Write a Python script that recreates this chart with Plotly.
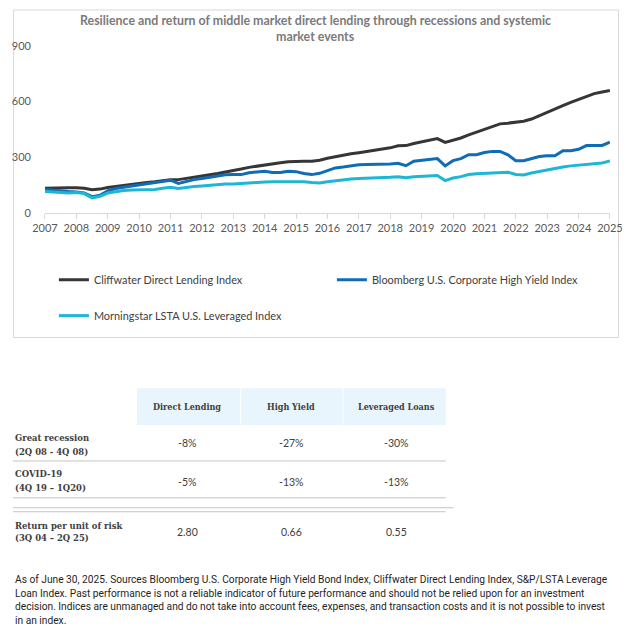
import plotly.graph_objects as go

W, H = 632, 637

# ---------------- data ----------------
title_lines = ["Resilience and return of middle market direct lending through recessions and systemic",
               "market events"]

quarters = [2007.00, 2007.25, 2007.50, 2007.75, 2008.00, 2008.25, 2008.50, 2008.75,
            2009.00, 2009.25, 2009.50, 2009.75, 2010.00, 2010.25, 2010.50, 2010.75,
            2011.00, 2011.25, 2011.50, 2011.75, 2012.00, 2012.25, 2012.50, 2012.75,
            2013.00, 2013.25, 2013.50, 2013.75, 2014.00, 2014.25, 2014.50, 2014.75,
            2015.00, 2015.25, 2015.50, 2015.75, 2016.00, 2016.25, 2016.50, 2016.75,
            2017.00, 2017.25, 2017.50, 2017.75, 2018.00, 2018.25, 2018.50, 2018.75,
            2019.00, 2019.25, 2019.50, 2019.75, 2020.00, 2020.25, 2020.50, 2020.75,
            2021.00, 2021.25, 2021.50, 2021.75, 2022.00, 2022.25, 2022.50, 2022.75,
            2023.00, 2023.25, 2023.50, 2023.75, 2024.00, 2024.25, 2024.50, 2024.75,
            2025.00]

cliffwater = [133, 135, 136, 136, 136, 133, 125, 129,
              138, 144, 150, 155, 159, 164, 168, 174,
              179, 180, 186, 190, 196, 206, 213, 220,
              228, 237, 246, 253, 261, 266, 271, 276,
              279, 279, 279, 284, 295, 304, 311, 319,
              325, 331, 337, 344, 351, 362, 363, 374,
              383, 390, 401, 380, 390, 404, 421, 436,
              453, 469, 480, 484, 489, 494, 506, 523,
              542, 560, 578, 596, 613, 629, 643, 652,
              660]

bloomberg_hy = [127, 122, 118, 116, 114, 108, 88, 96,
                120, 132, 139, 146, 153, 159, 164, 171,
                177, 160, 171, 180, 186, 194, 201, 206,
                207, 207, 217, 222, 225, 218, 218, 225,
                223, 213, 207, 214, 229, 243, 248, 255,
                260, 262, 262, 263, 264, 268, 255, 279,
                283, 288, 293, 254, 282, 293, 314, 314,
                326, 332, 332, 313, 282, 282, 293, 304,
                309, 309, 336, 336, 343, 363, 363, 364,
                382]

morningstar_lsta = [116, 112, 110, 108, 111, 105, 82, 90,
                    108, 116, 121, 124, 125, 126, 127, 133,
                    139, 132, 138, 143, 146, 150, 154, 156,
                    157, 160, 164, 166, 167, 168, 168, 170,
                    171, 168, 164, 162, 168, 174, 179, 183,
                    186, 187, 189, 191, 193, 196, 190, 195,
                    197, 199, 202, 175, 189, 196, 207, 211,
                    214, 218, 220, 220, 208, 205, 216, 225,
                    232, 241, 248, 254, 259, 264, 268, 270,
                    280]

series_names = ["Cliffwater Direct Lending Index",
                "Bloomberg U.S. Corporate High Yield Index",
                "Morningstar LSTA U.S. Leveraged Index"]

year_ticks = list(range(2007, 2026))
y_ticks = [0, 300, 600, 900]

table_columns = ["Direct Lending", "High Yield", "Leveraged Loans"]
row_labels = ["Great recession", "COVID-19", "Return per unit of risk"]
row_periods = ["(2Q 08 - 4Q 08)", "(4Q 19 – 1Q20)", "(3Q 04 – 2Q 25)"]
table_values = [["-8%", "-27%", "-30%"],
                ["-5%", "-13%", "-13%"],
                ["2.80", "0.66", "0.55"]]

footnote_lines = [
    "As of June 30, 2025. Sources Bloomberg U.S. Corporate High Yield Bond Index, Cliffwater Direct Lending Index, S&P/LSTA Leverage",
    "Loan Index. Past performance is not a reliable indicator of future performance and should not be relied upon for an investment",
    "decision. Indices are unmanaged and do not take into account fees, expenses, and transaction costs and it is not possible to invest",
    "in an index.",
]

# ---------------- layout helpers: target picture pixel -> paper ----------------
OX, SX, OY, SY = 12.0, 0.975, 5.0, 0.984


def cx(t):
    return min(max((t - OX) / SX, 0.0), W)


def cy(t):
    return min(max((t - OY) / SY, 0.0), H)


def px(t):
    return cx(t) / W


def py(t):
    return 1 - cy(t) / H


colors = ["#363636", "#0f6cb6", "#1db7d5"]
SANS = "Lato, Carlito, 'Open Sans', sans-serif"
SERIF = "'DejaVu Serif Condensed', 'DejaVu Serif', serif"
TXT = "#404040"

fig = go.Figure()
series = [cliffwater, bloomberg_hy, morningstar_lsta]
legends = ["legend", "legend", "legend2"]
for name, vals, c, lg in zip(series_names, series, colors, legends):
    fig.add_trace(go.Scatter(x=quarters, y=vals, name=name, mode="lines",
                             line=dict(color=c, width=3), legend=lg))

shapes = []
annotations = []

# chart border
shapes.append(dict(type="rect", xref="paper", yref="paper",
                   x0=0.5 / W, x1=(W - 0.5) / W, y0=py(8), y1=py(337),
                   line=dict(color="#d9d9d9", width=1), layer="below"))

# title
for i, t in enumerate(title_lines):
    annotations.append(dict(text=f"<b>{t}</b>", xref="paper", yref="paper",
                            x=px(320), y=py(19 + 16 * i), xanchor="center", yanchor="middle",
                            showarrow=False, font=dict(family=SANS, size=12.4, color="#7a7a7a")))

# table header cells
col_edges = [(138, 243), (244, 347), (348, 452)]
col_centers = [189, 295, 402]
for (a, b) in col_edges:
    shapes.append(dict(type="rect", xref="paper", yref="paper",
                       x0=px(a), x1=px(b), y0=py(388), y1=py(425),
                       fillcolor="#e8f5fc", line=dict(width=0), layer="below"))
for c_x, name in zip(col_centers, table_columns):
    annotations.append(dict(text=f"<b>{name}</b>", xref="paper", yref="paper",
                            x=px(c_x), y=py(407), xanchor="center", yanchor="middle",
                            showarrow=False, font=dict(family=SERIF, size=9, color=TXT)))

row_y = [(437, 451, 443), (474, 488, 482), (526, 538, 532)]
for (y1, y2, yv), lab, per, vals in zip(row_y, row_labels, row_periods, table_values):
    annotations.append(dict(text=f"<b>{lab}</b>", xref="paper", yref="paper",
                            x=px(11), y=py(y1), xanchor="left", yanchor="middle",
                            showarrow=False, font=dict(family=SERIF, size=9.4, color=TXT)))
    annotations.append(dict(text=f"<b>{per}</b>", xref="paper", yref="paper",
                            x=px(11), y=py(y2), xanchor="left", yanchor="middle",
                            showarrow=False, font=dict(family=SERIF, size=9.4, color=TXT)))
    for c_x, v in zip(col_centers, vals):
        annotations.append(dict(text=v, xref="paper", yref="paper",
                                x=px(c_x), y=py(yv), xanchor="center", yanchor="middle",
                                showarrow=False, font=dict(family=SANS, size=10.5, color=TXT)))

for (ya, xa, xb) in [(461, 3, 452), (498, 3, 452), (508, 0, 460), (512, 3, 452)]:
    shapes.append(dict(type="line", xref="paper", yref="paper",
                       x0=px(xa), x1=px(xb), y0=py(ya), y1=py(ya),
                       line=dict(color="#c4c4c4", width=1)))

# footnote
for i, t in enumerate(footnote_lines):
    annotations.append(dict(text=t, xref="paper", yref="paper",
                            x=px(4), y=py(580 + 13.7 * i), xanchor="left", yanchor="middle",
                            showarrow=False, font=dict(family="Roboto, sans-serif", size=10.2, color="#1e1e1e")))

legend_x = (cx(61) - 7.6) / W

fig.update_layout(
    width=W, height=H, autosize=False,
    margin=dict(l=0, r=0, t=0, b=0),
    paper_bgcolor="white", plot_bgcolor="white",
    xaxis=dict(domain=[px(44.5), px(619)], range=[2007, 2025],
               tickvals=year_ticks, ticktext=[str(y) for y in year_ticks],
               ticks="outside", ticklen=5, tickcolor="#d9d9d9",
               showline=True, linecolor="#d9d9d9", linewidth=1,
               showgrid=False, zeroline=False, ticklabeloverflow="allow",
               tickfont=dict(family=SANS, size=11, color="#595959")),
    yaxis=dict(domain=[py(212), py(44)], range=[0, 900], tickvals=y_ticks,
               showgrid=False, zeroline=False, showline=False, ticks="",
               ticklabelstandoff=13,
               tickfont=dict(family=SANS, size=11, color="#595959")),
    legend=dict(orientation="h", x=legend_x, y=py(279), xanchor="left", yanchor="middle",
                entrywidth=233, entrywidthmode="pixels", itemwidth=30,
                font=dict(family=SANS, size=10.9, color=TXT), bgcolor="rgba(0,0,0,0)"),
    legend2=dict(orientation="h", x=legend_x, y=py(315), xanchor="left", yanchor="middle",
                 itemwidth=30,
                 font=dict(family=SANS, size=10.9, color=TXT), bgcolor="rgba(0,0,0,0)"),
    shapes=shapes,
    annotations=annotations,
    showlegend=True,
)

fig.write_html(
    "out.html", config={"responsive": False, "displayModeBar": False},
    post_script=("document.documentElement.style.margin='0px';"
                 "document.body.style.margin='0px';document.body.style.padding='0px';"
                 "document.body.style.overflow='hidden';"
                 "var d=document.getElementById('{plot_id}');"
                 "d.style.position='fixed';d.style.left='0px';d.style.top='0px';"))
